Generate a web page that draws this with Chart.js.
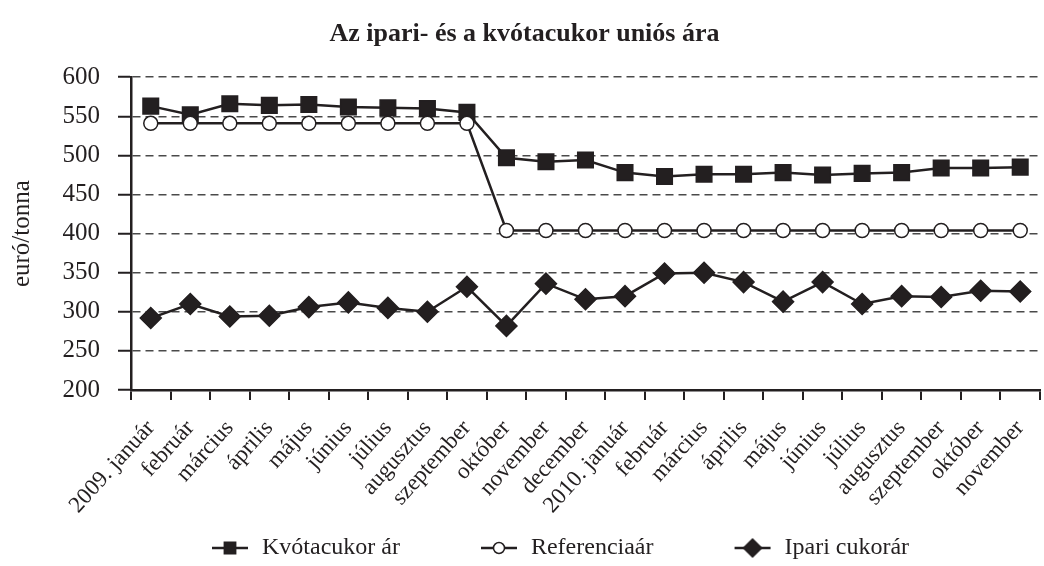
<!DOCTYPE html>
<html>
<head>
<meta charset="utf-8">
<script src="https://cdn.jsdelivr.net/npm/chart.js@4.4.1/dist/chart.umd.min.js"></script>
<style>
  html, body { margin: 0; padding: 0; background: #fff; overflow: hidden; }
  #wrap { width: 1056px; height: 566px; }
</style>
</head>
<body>
<div id="wrap"><canvas id="sugar-chart"></canvas></div>
<script>
const months = [
  '2009. január', 'február', 'március', 'április', 'május', 'június', 'július',
  'augusztus', 'szeptember', 'október', 'november', 'december',
  '2010. január', 'február', 'március', 'április', 'május', 'június', 'július',
  'augusztus', 'szeptember', 'október', 'november'
];

const quotaPrices = [563, 552, 566, 564, 565, 562, 561, 560, 555, 497, 492, 494,
  478, 473, 476, 476, 478, 475, 477, 478, 484, 484, 485];
const referencePrices = [541, 541, 541, 541, 541, 541, 541, 541, 541, 404, 404, 404,
  404, 404, 404, 404, 404, 404, 404, 404, 404, 404, 404];
const industrialPrices = [292, 310, 294, 295, 306, 312, 305, 300, 332, 282, 336, 316,
  320, 349, 350, 338, 313, 338, 310, 320, 319, 327, 326];

const seriesNames = ['Kvótacukor ár', 'Referenciaár', 'Ipari cukorár'];

const yMin = 200;
const yMax = 600;
const yStep = 50;

const INK = '#231f20';
const FONT = "'Liberation Serif', 'Times New Roman', serif";
const LEGEND_BOX = 109;

// line + marker picture for the legend, drawn at the right end of the box
function legendIcon(style, radius, fill) {
  const cv = document.createElement('canvas');
  cv.width = LEGEND_BOX;
  cv.height = 24;
  const ctx = cv.getContext('2d');
  const cx = LEGEND_BOX - 20;
  ctx.strokeStyle = INK;
  ctx.lineWidth = 2.5;
  ctx.beginPath();
  ctx.moveTo(cx - 18, 12);
  ctx.lineTo(cx + 18, 12);
  ctx.stroke();
  ctx.fillStyle = fill;
  ctx.lineWidth = 1.5;
  Chart.helpers.drawPoint(ctx, { pointStyle: style, radius: radius, rotation: 0, borderWidth: 1.5 }, cx, 12);
  return cv;
}

const icons = [
  legendIcon('rect', 8, INK),
  legendIcon('circle', 5.5, '#fff'),
  legendIcon('rectRot', 9, INK),
];

function makeDataset(label, data, style, radius, fill, order) {
  return {
    label: label,
    data: data,
    borderColor: INK,
    borderWidth: 2.5,
    pointStyle: style,
    pointRadius: radius,
    pointHoverRadius: radius,
    pointBackgroundColor: fill,
    pointBorderColor: INK,
    pointBorderWidth: 1.5,
    tension: 0,
    order: order,
  };
}

const data = {
  labels: months,
  datasets: [
    makeDataset(seriesNames[0], quotaPrices, 'rect', 11, INK, 2),
    makeDataset(seriesNames[1], referencePrices, 'circle', 7, '#fff', 1),
    makeDataset(seriesNames[2], industrialPrices, 'rectRot', 10.5, INK, 0),
  ],
};

const options = {
  responsive: true,
  maintainAspectRatio: false,
  animation: false,
  layout: { padding: { left: 0, right: 7, top: 0, bottom: -4 } },
  scales: {
    x: {
      offset: true,
      grid: {
        offset: true,
        drawOnChartArea: false,
        color: INK,
        lineWidth: 2,
        tickLength: 10,
        tickBorderDash: [],
      },
      border: { color: INK, width: 2.5 },
      ticks: {
        autoSkip: false,
        maxRotation: 48,
        minRotation: 48,
        padding: 15,
        color: INK,
        font: { family: FONT, size: 23 },
      },
      afterFit: (scale) => { scale.height = 136; },
    },
    y: {
      min: yMin,
      max: yMax,
      grid: {
        color: '#4a4a4a',
        lineWidth: 1.5,
        tickColor: INK,
        tickWidth: 2,
        tickBorderDash: [],
        tickLength: 13,
      },
      border: { color: INK, width: 2.5, dash: [8, 5] },
      ticks: {
        stepSize: yStep,
        padding: 18,
        color: INK,
        font: { family: FONT, size: 25 },
      },
      title: {
        display: true,
        text: 'euró/tonna',
        color: INK,
        padding: { top: 7, bottom: 0 },
        font: { family: FONT, size: 25 },
      },
      afterFit: (scale) => { scale.width = 131; },
    },
  },
  plugins: {
    title: {
      display: true,
      text: 'Az ipari- és a kvótacukor uniós ára',
      color: INK,
      padding: { top: 19, bottom: 27 },
      font: { family: FONT, size: 26, weight: 'bold', lineHeight: 1.2 },
    },
    legend: {
      position: 'bottom',
      align: 'start',
      fullSize: false,
      labels: {
        usePointStyle: true,
        pointStyleWidth: LEGEND_BOX,
        padding: 10,
        color: INK,
        font: { family: FONT, size: 24 },
        generateLabels: () => seriesNames.map((name, i) => ({
          text: name,
          pointStyle: icons[i],
          fillStyle: INK,
          strokeStyle: INK,
          lineWidth: 0,
          fontColor: INK,
          hidden: false,
          datasetIndex: i,
        })),
      },
    },
    tooltip: { enabled: false },
  },
};

const ctx = document.getElementById('sugar-chart').getContext('2d');
new Chart(ctx, { type: 'line', data: data, options: options });
</script>
</body>
</html>
